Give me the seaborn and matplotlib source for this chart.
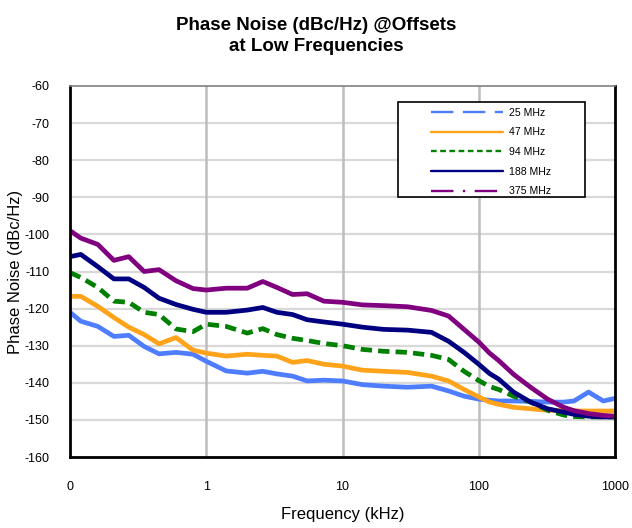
import numpy as np
import pandas as pd
import matplotlib
matplotlib.use("Agg")
import matplotlib.pyplot as plt
import seaborn as sns
from matplotlib.lines import Line2D
from matplotlib.patches import Rectangle

# =========================================================
# DATA
# =========================================================

series_names = ["25 MHz", "47 MHz", "94 MHz", "188 MHz", "375 MHz"]

# offset frequency in kHz ("0" on the axis is the 0.1 kHz start)
freq_khz = [0.1, 0.12, 0.16, 0.21, 0.27, 0.35, 0.45, 0.6, 0.8, 1,
            1.4, 2, 2.6, 3.3, 4.3, 5.5, 7.3, 10, 14, 20,
            30, 45, 60, 78, 100, 120, 140, 180, 240, 320,
            420, 500, 640, 820, 1000]

noise_25 = [-121, -123.4, -124.8, -127.5, -127.2, -130.2, -132.2, -131.8, -132.3, -134.2,
            -136.8, -137.4, -136.9, -137.6, -138.2, -139.5, -139.3, -139.5, -140.5, -140.9,
            -141.2, -140.9, -142.2, -143.6, -144.4, -144.7, -144.9, -144.9, -145.0, -145.2,
            -145.2, -144.9, -142.5, -144.9, -144.2]

noise_47 = [-116.7, -116.7, -119.4, -122.4, -125, -127, -129.5, -127.8, -131.2, -132,
            -132.8, -132.3, -132.6, -132.8, -134.5, -134, -135, -135.5, -136.6, -136.9,
            -137.2, -138.2, -139.5, -141.8, -143.8, -145.2, -145.8, -146.6, -147, -147.4,
            -147.5, -147.6, -147.6, -147.6, -147.6]

noise_94 = [-110.3, -111.6, -114.3, -118, -118.3, -121, -121.6, -125.5, -126.2, -124.2,
            -124.8, -126.6, -125.4, -127, -128, -128.6, -129.4, -130, -131, -131.5,
            -131.8, -132.6, -133.7, -136.9, -139.4, -141, -141.8, -143.6, -145.2, -147.4,
            -148.7, -149.1, -149.2, -149.2, -149.2]

noise_188 = [-106, -105.4, -108.7, -112, -112, -114.3, -117.2, -118.9, -120.2, -121,
             -121, -120.4, -119.7, -121, -121.6, -123, -123.6, -124.2, -125, -125.6,
             -125.8, -126.4, -128.8, -131.8, -135, -137.5, -139, -142.5, -145.2, -147,
             -147.9, -148.5, -149, -149.2, -149.2]

noise_375 = [-99, -101, -102.7, -107, -106, -110, -109.5, -112.5, -114.6, -115,
             -114.5, -114.5, -112.7, -114.3, -116.2, -116, -118, -118.3, -119, -119.2,
             -119.5, -120.5, -122, -125.6, -129, -132, -134, -137.7, -141.2, -144.4,
             -146.6, -147.5, -148.3, -148.8, -149]

x_ticks = [0.1, 1, 10, 100, 1000]
x_tick_labels = ["0", "1", "10", "100", "1000"]
y_ticks = list(range(-160, -50, 10))

# =========================================================
# LONG FORMAT FOR SEABORN
# =========================================================

all_noise = [noise_25, noise_47, noise_94, noise_188, noise_375]
frames = []
for name, vals in zip(series_names, all_noise):
    frames.append(pd.DataFrame({"freq": freq_khz, "noise": vals, "series": name}))
df = pd.concat(frames, ignore_index=True)

palette = {
    "25 MHz": "#4F7DFF",
    "47 MHz": "#FFA31A",
    "94 MHz": "#008000",
    "188 MHz": "#000080",
    "375 MHz": "#800080",
}
# in the plot area only the 94 MHz trace is visibly dashed
plot_dashes = {
    "25 MHz": "",
    "47 MHz": "",
    "94 MHz": (2.4, 1.3),
    "188 MHz": "",
    "375 MHz": "",
}
# legend swatches use the original line styles
legend_styles = {
    "25 MHz": (0, (9.5, 4)),
    "47 MHz": "-",
    "94 MHz": (0, (2.4, 1.5)),
    "188 MHz": "-",
    "375 MHz": (0, (9.5, 4, 1, 4)),
}

# =========================================================
# PLOT
# =========================================================

sns.set_style("white")
plt.rcParams["font.family"] = ["Liberation Sans", "DejaVu Sans"]
plt.rcParams["axes.unicode_minus"] = False
plt.rcParams["text.color"] = "black"
plt.rcParams["axes.labelcolor"] = "black"

fig = plt.figure(figsize=(6.32, 5.28), dpi=100)
ax = fig.add_axes([70 / 632, 1 - 457 / 528, 545 / 632, 371 / 528])

sns.lineplot(
    data=df, x="freq", y="noise",
    hue="series", style="series",
    palette=palette, dashes=plot_dashes,
    linewidth=3.4, sort=False, legend=False, ax=ax,
)
for ln in ax.get_lines():
    ln.set_solid_joinstyle("round")
    ln.set_dash_joinstyle("round")

ax.set_xscale("log")
ax.set_xlim(0.1, 1000)
ax.set_ylim(-160, -60)
ax.set_xticks(x_ticks)
ax.set_xticklabels(x_tick_labels)
ax.set_yticks(y_ticks)
ax.minorticks_off()

# grid: light horizontal, darker vertical decade lines
for yv in y_ticks[1:-1]:
    ax.axhline(yv, color="#d9d9d9", lw=1.6, zorder=0)
for xv in x_ticks[1:-1]:
    ax.axvline(xv, color="#bdbdbd", lw=1.8, zorder=0)

for side in ["left", "bottom", "right"]:
    ax.spines[side].set_color("black")
    ax.spines[side].set_linewidth(2)
ax.spines["top"].set_color("#808080")
ax.spines["top"].set_linewidth(1.2)

ax.tick_params(axis="both", direction="inout", length=7, width=1.5,
               colors="black", labelsize=9)
ax.tick_params(axis="x", pad=14)
ax.tick_params(axis="y", pad=11)
ax.tick_params(right=False, top=False)

ax.set_xlabel("Frequency (kHz)", fontsize=12)
ax.set_ylabel("Phase Noise (dBc/Hz)", fontsize=12)
ax.xaxis.set_label_coords(0.5, -0.135)
ax.yaxis.set_label_coords(-0.086, 0.5)

fig.suptitle("Phase Noise (dBc/Hz) @Offsets\nat Low Frequencies",
             fontsize=13.5, fontweight="bold", y=0.968, va="top",
             color="black", linespacing=1.35)

# legend box
ax.add_patch(Rectangle((0.602, 0.701), 0.343, 0.256, transform=ax.transAxes,
                       facecolor="white", edgecolor="black", lw=1.2, zorder=4))
handles = [Line2D([], [], color=palette[n], lw=1.7, linestyle=legend_styles[n])
           for n in series_names]
leg = ax.legend(handles, series_names, loc="upper left",
                bbox_to_anchor=(0.662, 0.942), frameon=False,
                fontsize=7.6, handlelength=6.8, handletextpad=0.6,
                labelspacing=0.92, borderpad=0, borderaxespad=0)
leg.set_zorder(5)

fig.savefig("out.png", dpi=100)
